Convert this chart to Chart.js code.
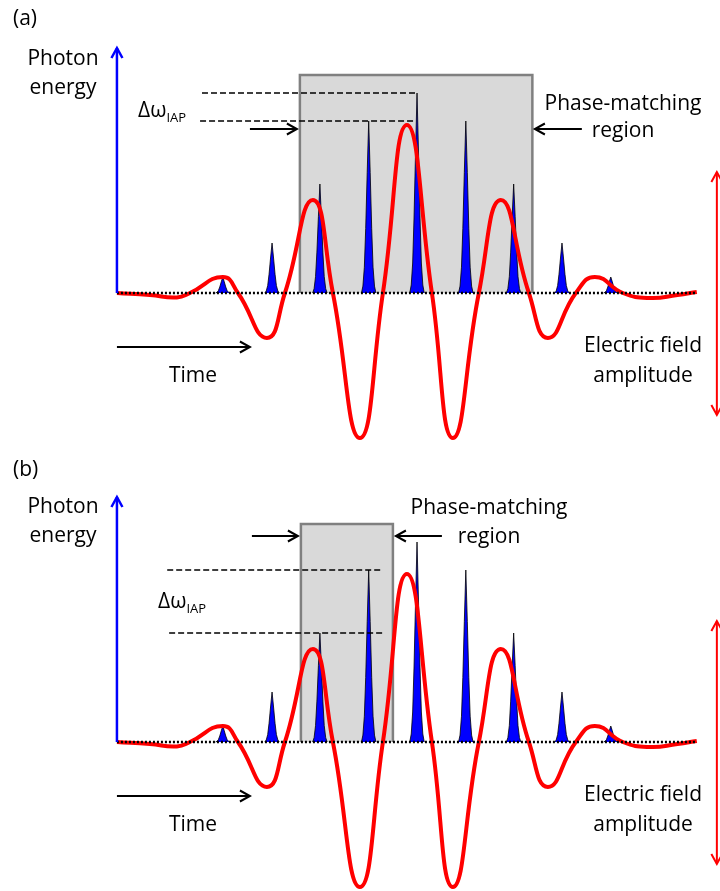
<!DOCTYPE html>
<html>
<head>
<meta charset="utf-8">
<title>Phase-matching window and attosecond pulse train</title>
<script src="https://cdn.jsdelivr.net/npm/chart.js@4.4.1/dist/chart.umd.min.js"></script>
<style>
  html, body { margin: 0; padding: 0; background: #fff; overflow: hidden; }
  canvas { display: block; }
</style>
</head>
<body>
<canvas id="panel-a" width="720" height="449"></canvas>
<canvas id="panel-b" width="720" height="449"></canvas>
<script>
// driving field: extrema and zero crossings (time in pulse-spacing units,
// field in units of the tallest harmonic burst)
var WAVE_T = [0, 0.683, 1.241, 1.51, 2.193, 2.504, 3.104, 3.476, 4.055, 4.469, 5.028, 5.504,
  6.0, 6.518, 6.952, 7.49, 7.945, 8.525, 8.918, 9.497, 9.89, 10.47, 11.03, 11.6, 12.0];
var WAVE_E = [0, -0.01, -0.022, 0, 0.08, 0, -0.225, 0, 0.465, 0, -0.725, 0,
  0.84, 0, -0.725, 0, 0.465, 0, -0.225, 0, 0.08, 0, -0.025, -0.01, 0.005];

// attosecond bursts: emission time and photon energy
var BURST_T = [2.19, 3.21, 4.2, 5.21, 6.21, 7.22, 8.21, 9.21, 10.22];
var BURST_E = [0.08, 0.25, 0.545, 0.86, 1.0, 0.86, 0.545, 0.25, 0.08];

// burst profile: offset from centre and relative height
var BURST_DT = [-0.15, -0.12, -0.09, -0.062, -0.031, 0, 0.031, 0.062, 0.09, 0.12, 0.15];
var BURST_SHAPE = [0, 0.04, 0.15, 0.375, 0.7, 1, 0.7, 0.375, 0.15, 0.04, 0];

// phase-matching windows [start, end] and height
var PM_RANGE_A = [3.786, 8.597];
var PM_RANGE_B = [3.807, 5.711];
var PM_TOP = 1.09;

// photon energy levels bounding the IAP bandwidth
var DW_LEVELS_A = [1.0, 0.86];
var DW_LEVELS_B = [0.86, 0.545];

var T_END = 12.0;
var X_MIN = -2.42, X_MAX = 12.48;
var Y_MIN = -0.78, Y_MAX = 1.465;

var FONT = '"Open Sans", "Noto Sans", sans-serif';

var PANELS = [
  {
    canvas: "panel-a",
    pm: PM_RANGE_A,
    levels: DW_LEVELS_A,
    dashFrom: [1.76, 1.72],
    dashTo: [6.19, 6.15],
    arrows: [
      { from: [2.752, 0.82], to: [3.724, 0.82], color: "#000", width: 2 },
      { from: [9.621, 0.82], to: [8.649, 0.82], color: "#000", width: 2 }
    ],
    labels: [
      { text: "(a)", x: 13, y: 25, align: "left" },
      { text: "Photon", x: 63, y: 65 },
      { text: "energy", x: 63, y: 94 },
      { text: "\u0394\u03c9", sub: "IAP", x: 138, y: 117, align: "left" },
      { text: "Phase-matching", x: 623, y: 110 },
      { text: "region", x: 623, y: 137 },
      { text: "Time", x: 193, y: 382 },
      { text: "Electric field", x: 643, y: 352 },
      { text: "amplitude", x: 643, y: 382 }
    ]
  },
  {
    canvas: "panel-b",
    pm: PM_RANGE_B,
    levels: DW_LEVELS_B,
    dashFrom: [1.04, 1.08],
    dashTo: [5.48, 5.52],
    arrows: [
      { from: [2.793, 1.03], to: [3.745, 1.03], color: "#000", width: 2 },
      { from: [6.725, 1.03], to: [5.773, 1.03], color: "#000", width: 2 }
    ],
    labels: [
      { text: "(b)", x: 13, y: 27, align: "left" },
      { text: "Photon", x: 63, y: 64 },
      { text: "energy", x: 63, y: 93 },
      { text: "\u0394\u03c9", sub: "IAP", x: 158, y: 159, align: "left" },
      { text: "Phase-matching", x: 489, y: 65 },
      { text: "region", x: 489, y: 94 },
      { text: "Time", x: 193, y: 382 },
      { text: "Electric field", x: 643, y: 352 },
      { text: "amplitude", x: 643, y: 382 }
    ]
  }
];

// axes drawn as arrows on both panels
var AXIS_ARROWS = [
  { from: [0, 0], to: [0, 1.225], color: "#0000ff", width: 2.5 },
  { from: [12.415, -0.61], to: [12.415, 0.605], color: "#ff0000", width: 2, both: true },
  { from: [0, -0.27], to: [2.752, -0.27], color: "#000", width: 2 }
];

function drawHead(ctx, tx, ty, fx, fy) {
  var ang = Math.atan2(ty - fy, tx - fx);
  var len = 10, half = 5.5;
  var bx = tx - len * Math.cos(ang), by = ty - len * Math.sin(ang);
  var px = -Math.sin(ang) * half, py = Math.cos(ang) * half;
  ctx.beginPath();
  ctx.moveTo(bx + px, by + py);
  ctx.lineTo(tx, ty);
  ctx.lineTo(bx - px, by - py);
  ctx.stroke();
}

function overlay(panel) {
  return {
    id: "overlay",
    afterDatasetsDraw: function (chart) {
      var ctx = chart.ctx;
      var xs = chart.scales.x, ys = chart.scales.y;
      ctx.save();
      ctx.lineJoin = "miter";
      AXIS_ARROWS.concat(panel.arrows).forEach(function (a) {
        var x1 = xs.getPixelForValue(a.from[0]), y1 = ys.getPixelForValue(a.from[1]);
        var x2 = xs.getPixelForValue(a.to[0]), y2 = ys.getPixelForValue(a.to[1]);
        ctx.strokeStyle = a.color;
        ctx.lineWidth = a.width;
        ctx.beginPath();
        ctx.moveTo(x1, y1);
        ctx.lineTo(x2, y2);
        ctx.stroke();
        drawHead(ctx, x2, y2, x1, y1);
        if (a.both) drawHead(ctx, x1, y1, x2, y2);
      });
      ctx.fillStyle = "#000";
      ctx.textBaseline = "alphabetic";
      panel.labels.forEach(function (l) {
        ctx.font = "21px " + FONT;
        ctx.textAlign = l.align || "center";
        ctx.fillText(l.text, l.x, l.y);
        if (l.sub) {
          var w = ctx.measureText(l.text).width;
          ctx.font = "13px " + FONT;
          ctx.textAlign = "left";
          ctx.fillText(l.sub, l.x + w, l.y + 5);
        }
      });
      ctx.restore();
    }
  };
}

function burstPoints(tc, h) {
  return BURST_DT.map(function (d, i) { return { x: tc + d, y: h * BURST_SHAPE[i] }; });
}

function buildDatasets(panel) {
  var sets = [];
  sets.push({
    data: [{ x: 0, y: 0 }, { x: T_END, y: 0 }],
    borderColor: "#000", borderWidth: 2.5, borderDash: [2, 2],
    pointRadius: 0, fill: false, order: 0
  });
  sets.push({
    data: WAVE_T.map(function (t, i) { return { x: t, y: WAVE_E[i] }; }),
    borderColor: "#ff0000", borderWidth: 4, tension: 0.5,
    pointRadius: 0, fill: false, order: 1
  });
  panel.levels.forEach(function (lv, i) {
    sets.push({
      data: [{ x: panel.dashFrom[i], y: lv }, { x: panel.dashTo[i], y: lv }],
      borderColor: "#000", borderWidth: 1.5, borderDash: [6, 3],
      pointRadius: 0, fill: false, order: 2
    });
  });
  BURST_T.forEach(function (t, i) {
    sets.push({
      data: burstPoints(t, BURST_E[i]),
      borderColor: "#000", borderWidth: 0.8, backgroundColor: "#0000ff",
      tension: 0, pointRadius: 0, fill: "origin", order: 3
    });
  });
  sets.push({
    data: [
      { x: panel.pm[0], y: 0 }, { x: panel.pm[0], y: PM_TOP },
      { x: panel.pm[1], y: PM_TOP }, { x: panel.pm[1], y: 0 }
    ],
    borderColor: "#808080", borderWidth: 2.5, backgroundColor: "#d9d9d9",
    tension: 0, pointRadius: 0, fill: "origin", order: 4
  });
  return sets;
}

PANELS.forEach(function (panel) {
  new Chart(document.getElementById(panel.canvas), {
    type: "line",
    data: { datasets: buildDatasets(panel) },
    options: {
      responsive: false,
      animation: false,
      events: [],
      layout: { padding: 0 },
      plugins: { legend: { display: false }, tooltip: { enabled: false } },
      scales: {
        x: { type: "linear", min: X_MIN, max: X_MAX, display: false },
        y: { type: "linear", min: Y_MIN, max: Y_MAX, display: false }
      }
    },
    plugins: [overlay(panel)]
  });
});
</script>
</body>
</html>
